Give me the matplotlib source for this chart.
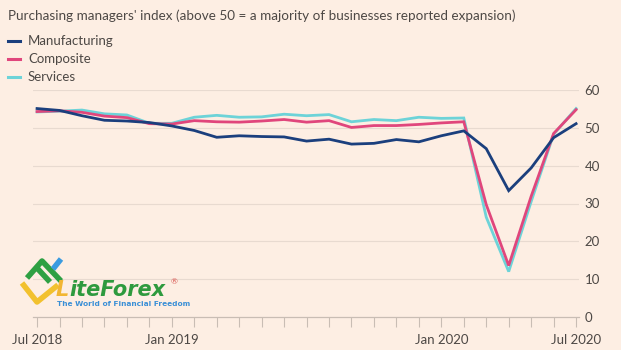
import numpy as np
import matplotlib
matplotlib.use("Agg")
import matplotlib.pyplot as plt
from matplotlib.lines import Line2D

# Monthly PMI readings, Jul 2018 .. Jul 2020
months = ["Jul 2018", "Aug 2018", "Sep 2018", "Oct 2018", "Nov 2018", "Dec 2018",
          "Jan 2019", "Feb 2019", "Mar 2019", "Apr 2019", "May 2019", "Jun 2019",
          "Jul 2019", "Aug 2019", "Sep 2019", "Oct 2019", "Nov 2019", "Dec 2019",
          "Jan 2020", "Feb 2020", "Mar 2020", "Apr 2020", "May 2020", "Jun 2020",
          "Jul 2020"]
manufacturing = [55.1, 54.6, 53.2, 52.0, 51.8, 51.4, 50.5, 49.3, 47.5, 47.9, 47.7, 47.6,
                 46.5, 47.0, 45.7, 45.9, 46.9, 46.3, 47.9, 49.2, 44.5, 33.4, 39.4, 47.4, 51.1]
composite = [54.3, 54.5, 54.1, 53.1, 52.7, 51.1, 51.0, 51.9, 51.6, 51.5, 51.8, 52.2,
             51.5, 51.9, 50.1, 50.6, 50.6, 50.9, 51.3, 51.6, 29.7, 13.6, 31.9, 48.5, 54.8]
services = [54.2, 54.4, 54.7, 53.7, 53.4, 51.2, 51.2, 52.8, 53.3, 52.8, 52.9, 53.6,
            53.2, 53.5, 51.6, 52.2, 51.9, 52.8, 52.5, 52.6, 26.4, 12.0, 30.5, 48.3, 55.1]
tick_months = ["Jul 2018", "Jan 2019", "Jan 2020", "Jul 2020"]
y_ticks = [0, 10, 20, 30, 40, 50, 60]

bg = "#fdeee3"
c_man = "#1b3f7d"
c_comp = "#e0467c"
c_serv = "#6dd3d8"
txt = "#4d4845"

plt.rcParams["font.family"] = ["Lato", "DejaVu Sans"]

W, H = 621, 350
fig = plt.figure(figsize=(W / 100, H / 100), dpi=100, facecolor=bg)
ax = fig.add_axes([33 / W, 1 - 317 / H, (579 - 33) / W, (317 - 90) / H], facecolor=bg)

x = np.arange(len(months))
ax.plot(x, services, color=c_serv, lw=2.0, solid_joinstyle="miter", zorder=3)
ax.plot(x, composite, color=c_comp, lw=2.0, solid_joinstyle="miter", zorder=4)
ax.plot(x, manufacturing, color=c_man, lw=2.0, solid_joinstyle="miter", zorder=5)

ax.set_xlim(-0.18, 24.13)
ax.set_ylim(0, 60)
for s in ax.spines.values():
    s.set_visible(False)
for v in y_ticks[1:]:
    ax.axhline(v, color="#e8dad0", lw=0.8, zorder=1)
ax.axhline(0, color="#c9bdb4", lw=0.9, zorder=2, clip_on=False)

ax.yaxis.tick_right()
ax.set_yticks(y_ticks)
ax.set_yticklabels([str(v) for v in y_ticks], fontsize=9.5, color=txt)
ax.tick_params(axis="y", length=0, pad=4)

ax.set_xticks([months.index(m) for m in tick_months])
ax.set_xticklabels(tick_months, fontsize=9.5, color=txt)
ax.set_xticks(x, minor=True)
ax.tick_params(axis="x", which="both", length=7, color="#c9bdb4", width=0.8, pad=5)

fig.text(8 / W, 1 - 16 / H, "Purchasing managers' index (above 50 = a majority of businesses reported expansion)",
         fontsize=9.7, color=txt, va="center", ha="left")
for i, (lab, col) in enumerate([("Manufacturing", c_man), ("Composite", c_comp), ("Services", c_serv)]):
    yy = 1 - (41 + 18 * i) / H
    fig.add_artist(Line2D([8 / W, 20 / W], [yy, yy], color=col, lw=2.2))
    fig.text(28 / W, yy, lab, fontsize=9.5, color=txt, va="center", ha="left")

# LiteForex watermark
def px(xs, ys):
    return [v / W for v in xs], [1 - v / H for v in ys]

fig.add_artist(Line2D(*px([22, 37, 58], [283, 302, 285]), color="#f2c12e", lw=4.0, solid_capstyle="butt"))
fig.add_artist(Line2D(*px([27, 42, 61], [278, 261, 281]), color="#2ea043", lw=4.0, solid_capstyle="butt"))
fig.add_artist(Line2D(*px([37, 50], [268, 282]), color="#2ea043", lw=4.0, solid_capstyle="butt"))
fig.add_artist(Line2D(*px([53, 61], [269, 259]), color="#3a9be0", lw=4.0, solid_capstyle="butt"))
fig.text(56 / W, 1 - 290 / H, "L", fontsize=15, fontweight="bold", style="italic", color="#f2b632",
         family="DejaVu Sans", va="center", ha="left")
fig.text(69 / W, 1 - 290 / H, "iteForex", fontsize=15, fontweight="bold", style="italic", color="#2e9a3e",
         family="DejaVu Sans", va="center", ha="left")
fig.text(171 / W, 1 - 282 / H, "®", fontsize=6, color="#d9534f", va="center", ha="left")
fig.text(57 / W, 1 - 304 / H, "The World of Financial Freedom", fontsize=5.3, fontweight="bold",
         color="#3a8fd6", family="DejaVu Sans", va="center", ha="left")

fig.savefig("out.png", dpi=100, facecolor=bg)
